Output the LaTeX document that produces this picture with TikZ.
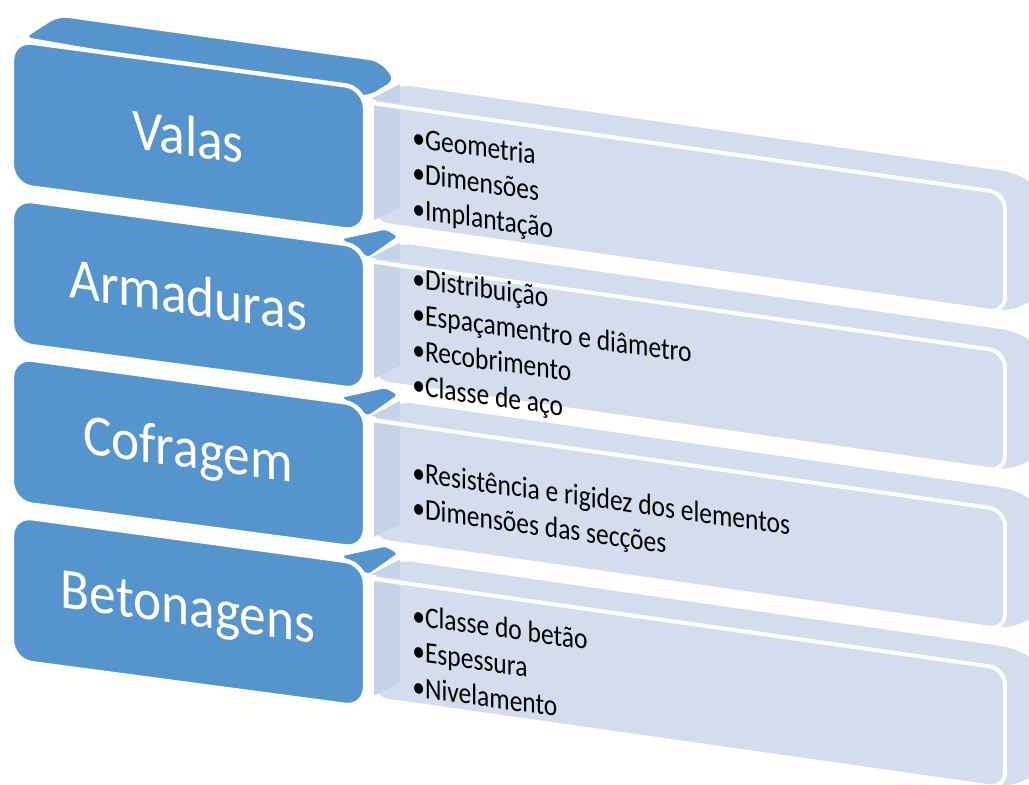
\documentclass[tikz,border=0pt]{standalone}
\usepackage{fontspec}
\setmainfont{Carlito}
\definecolor{boxblue}{RGB}{86,148,206}
\definecolor{panelblue}{RGB}{211,221,237}
\definecolor{sideblue}{RGB}{196,210,234}
\tikzset{every node/.style={align=center},
  topface/.style={fill=boxblue, draw=white, line width=1.5pt, rounded corners=5pt},
  nubface/.style={fill=boxblue, draw=white, line width=1pt, rounded corners=2pt},
  boxface/.style={fill=boxblue, draw=white, line width=2.2pt, rounded corners=10pt},
  panelbody/.style={fill=panelblue, draw=white, line width=1.5pt, rounded corners=6pt},
  panelface/.style={fill=panelblue, draw=white, line width=2pt},
  sideface/.style={fill=sideblue},
  title/.style={text=white, font=\fontsize{29}{34}\selectfont, yslant=-0.14, xscale=0.92, transform shape},
  items/.style={anchor=west, align=left, inner sep=0pt, font=\fontsize{15}{17.8}\selectfont, yslant=-0.14, xscale=0.85, transform shape}}

\begin{document}
\begin{tikzpicture}[x=0.5pt, y=-0.5pt]
\useasboundingbox (0,0) rectangle (1029,784);
\clip (0,0) rectangle (1029,784);
% top of the first block, the others only show at the right
\draw[topface] (22,38) -- (58,15) -- (380,60) -- (397,80) -- (368,98) -- cycle;
\foreach \o in {475.5,317,158.5}
  \draw[nubface, shift={(0,\o)}] (340,80) -- (386,70) -- (399,78) -- (368,100) -- cycle;
% rows from the bottom up
\foreach \o in {475.5,317,158.5,0} {
  \begin{scope}[shift={(0,\o)}]
    \draw[boxface] (12,40) -- (365,88) -- (365,232) -- (12,185) -- cycle;
    \draw[panelbody] (370,100) -- (400,83) -- (1015,171) -- (1040,186) -- (1040,300) -- (1008,313) -- (370,222) -- cycle;
    \fill[sideface] (371,99) -- (400,84) -- (400,103) -- cycle;
    \draw[panelface] (372,103) [rounded corners=8pt] -- (1005,193) -- (1005,313) -- (372,223) [sharp corners] -- cycle;
    \fill[sideface] (374,106) -- (400,110) -- (400,207) -- (374,220) -- cycle;
  \end{scope}
}
\node[title] (valas) at (188,136) {Valas};
\node[title] (armaduras) at (188,294.5) {Armaduras};
\node[title] (cofragem) at (188,453) {Cofragem};
\node[title] (betonagens) at (188,611.5) {Betonagens};
\node[items] (valasitems) at (412,175) {•Geometria\\•Dimensões\\•Implantação};
\node[items] (armadurasitems) at (412,333.5) {•Distribuição\\•Espaçamentro e diâmetro\\•Recobrimento\\•Classe de aço};
\node[items] (cofragemitems) at (412,492) {•Resistência e rigidez dos elementos\\•Dimensões das secções};
\node[items] (betonagensitems) at (412,650.5) {•Classe do betão\\•Espessura\\•Nivelamento};
\end{tikzpicture}
\end{document}
